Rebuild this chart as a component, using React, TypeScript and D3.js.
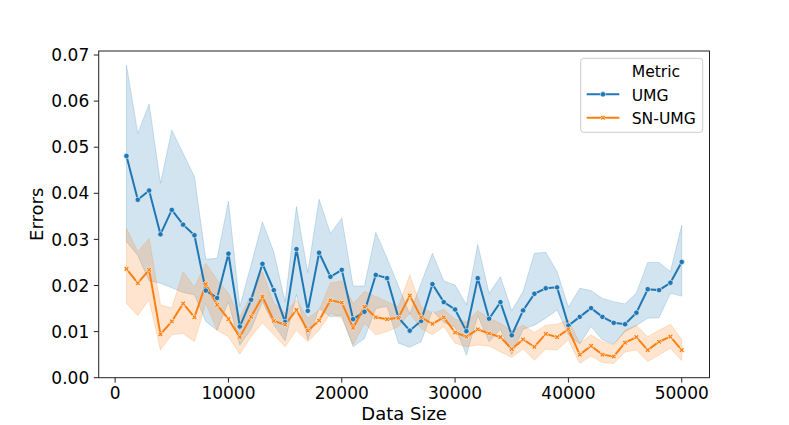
import * as d3 from "d3"

const sizes = [
  1000, 2000, 3000, 4000, 5000, 6000, 7000, 8000, 9000, 10000,
  11000, 12000, 13000, 14000, 15000, 16000, 17000, 18000, 19000, 20000,
  21000, 22000, 23000, 24000, 25000, 26000, 27000, 28000, 29000, 30000,
  31000, 32000, 33000, 34000, 35000, 36000, 37000, 38000, 39000, 40000,
  41000, 42000, 43000, 44000, 45000, 46000, 47000, 48000, 49000, 50000,
]

const umgMean = [
  0.0481, 0.0386, 0.0406, 0.0311, 0.0364, 0.0332, 0.0309, 0.0189, 0.0173, 0.0269,
  0.0111, 0.0169, 0.0247, 0.019, 0.0121, 0.0279, 0.0145, 0.0271, 0.0219, 0.0234,
  0.0127, 0.0143, 0.0223, 0.0216, 0.013, 0.0102, 0.0123, 0.0203, 0.0164, 0.0148,
  0.0101, 0.0216, 0.0128, 0.0164, 0.0092, 0.0146, 0.0182, 0.0194, 0.0196, 0.0113,
  0.0132, 0.0151, 0.0132, 0.0119, 0.0116, 0.0141, 0.0192, 0.019, 0.0206, 0.0251,
]
const umgHigh = [
  0.0678, 0.053, 0.0594, 0.0422, 0.0537, 0.0487, 0.0436, 0.0257, 0.0259, 0.0383,
  0.0154, 0.0245, 0.0338, 0.0273, 0.0165, 0.0371, 0.0228, 0.0387, 0.0313, 0.0346,
  0.0199, 0.0199, 0.0315, 0.0259, 0.0199, 0.0138, 0.0205, 0.027, 0.021, 0.0201,
  0.0158, 0.0289, 0.0183, 0.0219, 0.0145, 0.0187, 0.027, 0.0272, 0.023, 0.0153,
  0.0194, 0.0189, 0.0172, 0.0165, 0.016, 0.0184, 0.025, 0.025, 0.023, 0.0331,
]
const umgLow = [
  0.0295, 0.0265, 0.021, 0.0205, 0.0195, 0.0185, 0.018, 0.0122, 0.0103, 0.0165,
  0.0071, 0.0105, 0.0165, 0.0115, 0.008, 0.018, 0.0082, 0.015, 0.0132, 0.0135,
  0.0067, 0.0085, 0.015, 0.0155, 0.0075, 0.0066, 0.0078, 0.0145, 0.012, 0.011,
  0.0049, 0.0135, 0.0078, 0.0105, 0.005, 0.0105, 0.0114, 0.0129, 0.0147, 0.0093,
  0.0073, 0.0111, 0.0082, 0.0073, 0.01, 0.0113, 0.0129, 0.013, 0.0183, 0.0177,
]

const snMean = [
  0.0236, 0.0205, 0.0234, 0.0094, 0.0122, 0.0161, 0.0131, 0.0203, 0.0158, 0.0127,
  0.0088, 0.0132, 0.0176, 0.0123, 0.0115, 0.0147, 0.0102, 0.0124, 0.0168, 0.0163,
  0.0108, 0.0154, 0.0131, 0.0127, 0.013, 0.0178, 0.0131, 0.0117, 0.0131, 0.0098,
  0.0089, 0.0105, 0.0096, 0.0088, 0.0062, 0.0083, 0.0067, 0.0095, 0.0088, 0.0105,
  0.005, 0.0069, 0.005, 0.0046, 0.0076, 0.0088, 0.006, 0.0078, 0.0089, 0.006,
]
const snHigh = [
  0.0324, 0.0273, 0.0302, 0.0158, 0.0151, 0.023, 0.0197, 0.0248, 0.0212, 0.0183,
  0.0132, 0.0179, 0.023, 0.0162, 0.014, 0.0169, 0.0129, 0.0147, 0.0205, 0.021,
  0.0161, 0.0187, 0.0176, 0.0165, 0.0154, 0.0223, 0.0154, 0.014, 0.0148, 0.0127,
  0.0121, 0.0145, 0.0129, 0.0118, 0.01, 0.0114, 0.0098, 0.0114, 0.0116, 0.0125,
  0.0075, 0.0093, 0.0078, 0.0072, 0.0103, 0.0114, 0.0089, 0.0103, 0.0116, 0.0083,
]
const snLow = [
  0.0161, 0.0135, 0.0169, 0.006, 0.0093, 0.0096, 0.0078, 0.0161, 0.0103, 0.0089,
  0.0051, 0.0089, 0.0119, 0.0093, 0.0067, 0.0103, 0.0078, 0.0103, 0.014, 0.0129,
  0.0071, 0.0118, 0.0093, 0.01, 0.0111, 0.014, 0.0107, 0.0093, 0.0111, 0.0075,
  0.0067, 0.0071, 0.0069, 0.0056, 0.0044, 0.0062, 0.0038, 0.0062, 0.006, 0.0082,
  0.0031, 0.0047, 0.0033, 0.0031, 0.0056, 0.006, 0.0035, 0.0049, 0.0064, 0.0037,
]

const xTicks = [0, 10000, 20000, 30000, 40000, 50000]
const yTicks = [0, 0.01, 0.02, 0.03, 0.04, 0.05, 0.06, 0.07]

const seriesNames = ["UMG", "SN-UMG"]
const colors = ["#1f77b4", "#ff7f0e"]

const W = 789
const H = 425
const plot = { left: 98.7, right: 709.5, top: 51, bottom: 377.7 }
const font = "'DejaVu Sans', sans-serif"

export default function App() {
  const x = d3.scaleLinear().domain([-1450, 52450]).range([plot.left, plot.right])
  const y = d3.scaleLinear().domain([0, 0.07087]).range([plot.bottom, plot.top])

  const series = [
    { name: seriesNames[0], mean: umgMean, low: umgLow, high: umgHigh, color: colors[0] },
    { name: seriesNames[1], mean: snMean, low: snLow, high: snHigh, color: colors[1] },
  ]

  const area = d3.area<number>().x((d) => x(d))
  const line = d3.line<number>()

  const xMarker = d3.symbol().type(d3.symbolCross).size(17)()

  return (
    <div style={{ position: "absolute", left: 0, top: 0 }}>
      <svg width={W} height={H} style={{ display: "block", background: "#fff" }}>
        {/* bandas */}
        {series.map((s) => (
          <path
            key={s.name + "-band"}
            d={
              area
                .y0((_, i) => y(s.low[i]))
                .y1((_, i) => y(s.high[i]))(sizes) || ""
            }
            fill={s.color}
            fillOpacity={0.2}
            stroke={s.color}
            strokeOpacity={0.2}
            strokeWidth={1}
          />
        ))}

        {/* lineas */}
        {series.map((s) => (
          <path
            key={s.name + "-line"}
            d={line.x((d) => x(d)).y((_, i) => y(s.mean[i]))(sizes) || ""}
            fill="none"
            stroke={s.color}
            strokeWidth={2}
          />
        ))}

        {/* marcadores */}
        {sizes.map((d, i) => (
          <circle
            key={"c" + d}
            cx={x(d)}
            cy={y(umgMean[i])}
            r={2.7}
            fill={colors[0]}
            stroke="#fff"
            strokeWidth={0.6}
          />
        ))}
        {sizes.map((d, i) => (
          <path
            key={"x" + d}
            d={xMarker || ""}
            transform={`translate(${x(d)},${y(snMean[i])}) rotate(45)`}
            fill={colors[1]}
            stroke="#fff"
            strokeWidth={0.6}
          />
        ))}

        {/* marco */}
        <rect
          x={plot.left}
          y={plot.top}
          width={plot.right - plot.left}
          height={plot.bottom - plot.top}
          fill="none"
          stroke="#222"
          strokeWidth={1}
        />

        {/* eje x */}
        {xTicks.map((t) => (
          <g key={"xt" + t} transform={`translate(${x(t)},${plot.bottom})`}>
            <line y2={4.9} stroke="#222" strokeWidth={1} />
            <text y={21} textAnchor="middle" fontFamily={font} fontSize={17} fill="#000">
              {t}
            </text>
          </g>
        ))}
        <text
          x={(plot.left + plot.right) / 2}
          y={419.5}
          textAnchor="middle"
          fontFamily={font}
          fontSize={18}
          fill="#000"
        >
          Data Size
        </text>

        {/* eje y */}
        {yTicks.map((t) => (
          <g key={"yt" + t} transform={`translate(${plot.left},${y(t)})`}>
            <line x2={-4.9} stroke="#222" strokeWidth={1} />
            <text x={-9.5} dy="0.36em" textAnchor="end" fontFamily={font} fontSize={17} fill="#000">
              {t.toFixed(2)}
            </text>
          </g>
        ))}
        <text
          transform={`translate(42.5,${(plot.top + plot.bottom) / 2}) rotate(-90)`}
          textAnchor="middle"
          fontFamily={font}
          fontSize={18}
          fill="#000"
        >
          Errors
        </text>

        {/* leyenda */}
        <g fontFamily={font} fontSize={15.6}>
          <rect
            x={580.7}
            y={58.3}
            width={122}
            height={74}
            rx={3}
            fill="#fff"
            fillOpacity={0.8}
            stroke="#ccc"
            strokeWidth={1}
          />
          <text x={631.7} y={76.7} fill="#000">
            Metric
          </text>
          {series.map((s, i) => {
            const ly = 94.3 + i * 23.4
            return (
              <g key={"lg" + s.name}>
                <line x1={586.7} x2={619.3} y1={ly} y2={ly} stroke={s.color} strokeWidth={2} />
                {i === 0 ? (
                  <circle cx={603} cy={ly} r={2.7} fill={s.color} stroke="#fff" strokeWidth={0.6} />
                ) : (
                  <path
                    d={xMarker || ""}
                    transform={`translate(603,${ly}) rotate(45)`}
                    fill={s.color}
                    stroke="#fff"
                    strokeWidth={0.6}
                  />
                )}
                <text x={631.7} y={ly + 6.3} fill="#000">
                  {s.name}
                </text>
              </g>
            )
          })}
        </g>
      </svg>
    </div>
  )
}
